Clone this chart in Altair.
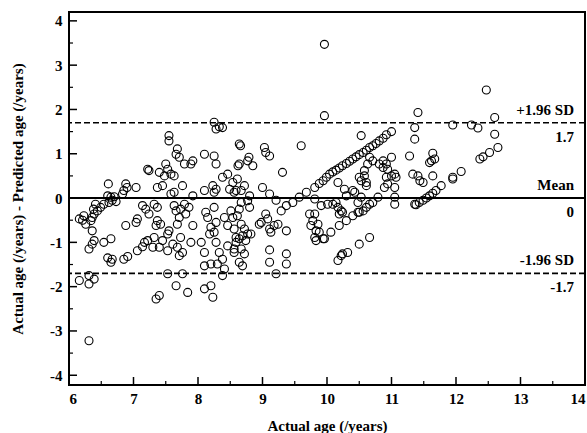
import altair as alt
import pandas as pd

# ---- data (actual age, actual - predicted) ----
region_6_7 = [
    (6.61, 0.32), (6.88, 0.32), (6.90, 0.24), (6.85, 0.17), (6.83, 0.09), (7.04, 0.24),
    (6.60, 0.05), (6.65, 0.02), (6.70, 0.03), (6.67, -0.05), (6.62, -0.10), (6.73, -0.08),
    (6.54, -0.14), (6.49, -0.21), (6.44, -0.29), (6.39, -0.36), (6.36, -0.44), (6.41, -0.14),
    (6.38, -0.25), (6.16, -0.47), (6.23, -0.40), (6.21, -0.50), (6.26, -0.59), (6.34, -0.51),
    (6.36, -0.74), (6.88, -0.62), (7.06, -0.47), (7.04, -0.55), (7.14, -0.17), (7.19, -0.25),
    (7.24, -0.36), (6.31, -1.15), (6.36, -1.04), (6.39, -0.96), (6.54, -1.00), (6.65, -0.92),
    (6.60, -1.35), (6.65, -1.45), (6.67, -1.38), (6.85, -1.38), (6.91, -1.32), (7.06, -1.19),
    (7.14, -1.10), (7.17, -1.00), (7.22, -0.96), (6.16, -1.86), (6.31, -1.75), (6.31, -1.94),
    (6.39, -1.83), (6.31, -3.22),
]

region_7_9_low = [
    (7.24, 0.62), (7.40, 0.58), (7.48, 0.50), (7.58, 0.54), (7.63, 0.50), (7.37, 0.24),
    (7.45, 0.28), (7.76, 0.28), (7.58, 0.09), (7.63, 0.13), (7.92, 0.05), (8.10, 0.17),
    (8.23, 0.28), (8.28, 0.20), (8.25, 0.13), (8.38, 0.47), (8.46, 0.54), (8.54, 0.35),
    (8.49, 0.20), (8.59, 0.17), (7.32, -0.14), (7.37, -0.21), (7.63, -0.17), (7.66, -0.29),
    (7.73, -0.25), (7.79, -0.14), (7.81, -0.36), (7.71, -0.44), (7.86, -0.21), (7.68, -0.59),
    (7.92, -0.62), (7.37, -0.51), (7.35, -0.62), (7.42, -0.59), (8.12, -0.32), (8.15, -0.44),
    (8.25, -0.21), (8.28, -0.55), (8.20, -0.66), (8.41, -0.44), (8.51, -0.29), (8.54, -0.44),
    (8.46, -0.62), (8.56, -0.70), (7.30, -1.11), (7.32, -0.89), (7.40, -1.11), (7.45, -0.96),
    (7.53, -0.81), (7.55, -0.74), (7.53, -1.19), (7.61, -1.04), (7.68, -1.11), (7.71, -1.30),
    (7.73, -0.89), (7.76, -1.23), (7.89, -1.00), (8.05, -1.00), (8.10, -1.23), (8.18, -0.81),
    (8.28, -1.00), (8.25, -0.77), (8.33, -1.23), (8.30, -1.49), (8.38, -1.38), (8.46, -1.08),
    (8.56, -1.15), (8.59, -0.89), (8.10, -1.53), (8.20, -1.49), (8.41, -1.60), (8.38, -1.75),
    (7.53, -1.71), (7.76, -1.71), (7.66, -1.98), (7.40, -2.20), (7.35, -2.28), (7.84, -2.13),
    (8.10, -2.05), (8.20, -1.98), (8.23, -2.24),
]

region_7_9_high = [
    (8.25, 1.71), (8.28, 1.56), (8.33, 1.61), (8.38, 1.59), (7.55, 1.41), (7.55, 1.29),
    (7.68, 1.11), (7.66, 0.99), (7.71, 0.92), (7.79, 0.77), (7.89, 0.77), (7.92, 0.84),
    (8.10, 0.99), (8.25, 0.95), (8.28, 0.77), (8.64, 1.22), (8.62, 0.73), (7.22, 0.65),
    (7.50, 0.77), (7.53, 0.65),
]

region_9_10 = [
    (9.96, 3.47), (9.96, 1.86), (8.66, 1.18), (8.79, 0.92), (8.77, 0.84), (8.85, 0.73),
    (8.64, 0.77), (9.03, 1.14), (9.05, 1.03), (9.11, 0.95), (9.60, 1.18), (9.31, 0.58),
    (8.61, 0.43), (8.72, 0.28), (8.67, 0.17), (8.56, 0.13), (9.00, 0.24), (9.11, 0.09),
    (9.21, -0.05), (8.67, -0.10), (8.80, 0.05), (8.77, -0.06), (8.80, -0.21), (8.64, -0.25),
    (9.29, -0.29), (9.37, -0.17), (9.47, -0.10), (9.57, 0.02), (9.68, 0.13), (9.81, 0.24),
    (9.88, 0.33), (9.94, 0.39), (9.99, 0.47), (10.04, 0.54), (9.81, -0.02), (9.91, -0.17),
    (9.73, -0.36), (9.81, -0.36), (9.78, -0.51), (9.75, -0.62), (9.86, -0.59), (9.83, -0.74),
    (9.88, -0.77), (9.83, -0.96), (9.94, -0.92), (9.81, -0.89), (9.05, -0.36), (9.08, -0.47),
    (8.98, -0.55), (8.95, -0.59), (9.11, -0.70), (9.18, -0.62), (9.24, -0.59), (9.37, -0.74),
    (9.13, -0.77), (8.61, -0.40), (8.67, -0.59), (8.72, -0.70), (8.69, -0.85), (8.77, -0.81),
    (8.82, -0.81), (8.64, -0.92), (8.74, -0.96), (8.59, -1.00), (8.67, -1.15), (8.56, -1.23),
    (8.72, -1.26), (8.64, -1.45), (8.69, -1.53), (9.11, -1.17), (9.11, -1.45), (9.37, -1.26),
    (9.37, -1.49), (9.21, -1.71),
]

region_10_11 = [
    (11.41, 1.93), (11.36, 1.59), (11.36, 1.33), (11.28, 0.95), (10.53, 1.41),
    (11.00, 1.50), (10.92, 1.43), (10.87, 1.35), (10.81, 1.29), (10.76, 1.23), (10.71, 1.18),
    (10.66, 1.14), (10.61, 1.08), (10.56, 1.03), (10.50, 0.98), (10.45, 0.93), (10.40, 0.88),
    (10.35, 0.83), (10.30, 0.78), (10.24, 0.73), (10.19, 0.68), (10.14, 0.63), (10.09, 0.59),
    (10.66, 0.92), (10.71, 0.84), (10.63, 0.77), (10.81, 0.77), (10.87, 0.84), (10.92, 0.77),
    (11.00, 0.92), (10.87, 0.69), (10.94, 0.65), (10.58, 0.62), (11.05, 0.54),
    (10.17, 0.35), (10.27, 0.20), (10.30, 0.05), (10.40, 0.17), (10.43, 0.13), (10.53, 0.02),
    (10.48, -0.10), (10.50, 0.47), (10.58, 0.50), (10.61, 0.35), (10.61, 0.28), (10.53, 0.39),
    (10.92, 0.47), (11.00, 0.50), (11.07, 0.47), (10.94, 0.32), (10.89, 0.24), (11.05, 0.24),
    (11.33, 0.54), (11.44, 0.39), (10.01, -0.14), (10.09, -0.14), (10.14, -0.10), (10.17, -0.21),
    (10.22, -0.29), (10.19, -0.36), (10.24, -0.32), (10.50, -0.32), (10.56, -0.29), (10.61, -0.21),
    (10.66, -0.14), (10.71, -0.10), (10.79, 0.02), (11.05, 0.02), (11.05, -0.14), (11.36, -0.14),
    (9.96, -0.92), (10.06, -0.77), (10.19, -0.62), (10.30, -0.51), (10.40, -0.40), (10.48, -0.32),
    (10.50, -1.04), (10.66, -0.89), (10.17, -1.41), (10.22, -1.30), (10.32, -1.23), (10.24, -1.26),
]

region_11_13 = [
    (12.47, 2.44), (12.60, 1.82), (11.95, 1.65), (12.24, 1.65), (12.34, 1.58), (12.60, 1.44),
    (12.65, 1.14), (12.52, 1.03), (12.42, 0.93), (12.37, 0.88), (11.64, 1.01), (11.62, 0.84),
    (11.59, 0.80), (11.67, 0.88), (11.41, 0.50), (11.64, 0.50), (11.95, 0.47), (12.08, 0.60),
    (11.49, 0.35), (11.95, 0.43), (11.77, 0.28), (11.69, 0.17), (11.64, 0.11), (11.59, 0.05),
    (11.54, 0.00), (11.49, -0.05), (11.43, -0.10), (11.38, -0.15),
]

all_points = region_6_7 + region_7_9_low + region_7_9_high + region_9_10 + region_10_11 + region_11_13
df = pd.DataFrame(all_points, columns=["actual", "diff"])

# axis ticks
x_major = [6, 7, 8, 9, 10, 11, 12, 13, 14]
x_minor = [6.5, 7.5, 8.5, 9.5, 10.5, 11.5, 12.5, 13.5]
y_major = [-4, -3, -2, -1, 0, 1, 2, 3, 4]
y_minor = [-3.5, -2.5, -1.5, -0.5, 0.5, 1.5, 2.5, 3.5]

# reference lines and labels
ref_values = [1.7, 0, -1.7]
ref_names = ["+1.96 SD", "Mean", "-1.96 SD"]
ref_value_labels = ["1.7", "0", "-1.7"]
ref_dashed = [True, False, True]

FONT = "Liberation Serif"
W, H = 516, 373
x_scale = alt.Scale(domain=[6, 14], nice=False, zero=False)
y_scale = alt.Scale(domain=[-4.22, 4.2], nice=False, zero=False)

x_axis = alt.Axis(title="Actual age (/years)", values=x_major, labelExpr="'' + datum.value",
                  labelPadding=6, titlePadding=12)
y_axis = alt.Axis(title="Actual age (/years) - Predicted age (/years)", values=y_major,
                  labelExpr="'' + datum.value", labelPadding=7, titlePadding=24)


def X(field=None, datum=None):
    if datum is not None:
        return alt.X(datum=datum, type="quantitative", scale=x_scale, axis=x_axis)
    return alt.X(field, type="quantitative", scale=x_scale, axis=x_axis)


def Y(field):
    return alt.Y(field, type="quantitative", scale=y_scale, axis=y_axis)


points = alt.Chart(df).mark_point(
    shape="circle", filled=False, size=64, color="black", strokeWidth=1.1, opacity=1
).encode(x=X("actual"), y=Y("diff"))

ref_df = pd.DataFrame({"diff": ref_values, "name": ref_names, "lab": ref_value_labels, "dashed": ref_dashed})

solid = alt.Chart(ref_df).transform_filter("!datum.dashed").mark_rule(color="black", strokeWidth=2).encode(
    y=Y("diff"))
dashed = alt.Chart(ref_df).transform_filter("datum.dashed").mark_rule(
    color="black", strokeWidth=1.6, strokeDash=[6, 3]).encode(y=Y("diff"))

name_text = alt.Chart(ref_df).mark_text(
    align="right", baseline="middle", dx=-11, dy=-13, font=FONT, fontWeight="bold", fontSize=15, color="black"
).encode(x=X(datum=14), y=Y("diff"), text="name:N")
val_text = alt.Chart(ref_df).mark_text(
    align="right", baseline="middle", dx=-11, dy=14, font=FONT, fontWeight="bold", fontSize=15, color="black"
).encode(x=X(datum=14), y=Y("diff"), text="lab:N")

# inward ticks
ytick_major = alt.Chart(pd.DataFrame({"diff": y_major})).mark_rule(color="black", strokeWidth=1.5).encode(
    y=Y("diff"), x=alt.value(0), x2=alt.value(8))
ytick_minor = alt.Chart(pd.DataFrame({"diff": y_minor})).mark_rule(color="black", strokeWidth=1.2).encode(
    y=Y("diff"), x=alt.value(0), x2=alt.value(4))
xtick_major = alt.Chart(pd.DataFrame({"actual": x_major})).mark_rule(color="black", strokeWidth=1.5).encode(
    x=X("actual"), y=alt.value(H), y2=alt.value(H - 8))
xtick_minor = alt.Chart(pd.DataFrame({"actual": x_minor})).mark_rule(color="black", strokeWidth=1.2).encode(
    x=X("actual"), y=alt.value(H), y2=alt.value(H - 4))

chart = alt.layer(
    points, dashed, solid, ytick_major, ytick_minor, xtick_major, xtick_minor, name_text, val_text
).properties(
    width=W, height=H,
    autosize=alt.AutoSizeParams(type="none"),
    padding={"left": 69, "top": 12, "right": 2, "bottom": 48},
    background="white",
).configure_axis(
    labelFont=FONT, labelFontSize=15, labelFontWeight="bold", labelColor="black",
    titleFont=FONT, titleFontSize=15, titleFontWeight="bold", titleColor="black",
    grid=False, domain=False, ticks=False,
).configure_view(stroke="black", strokeWidth=2)

chart.save("out.html", embed_options={"renderer": "svg", "actions": False})
